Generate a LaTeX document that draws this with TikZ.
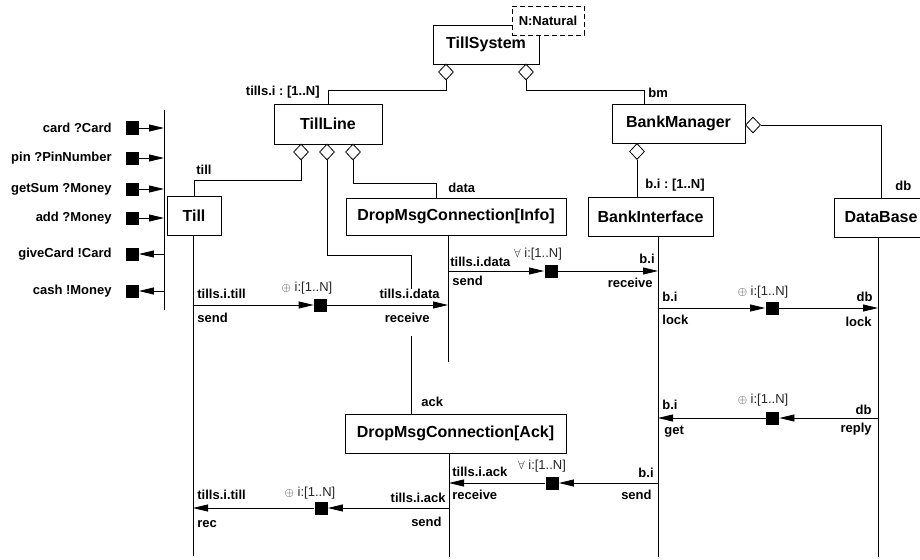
\documentclass[tikz,border=0pt]{standalone}
\usepackage{fontspec}
\setmainfont{Liberation Sans}
\frenchspacing
\usetikzlibrary{shapes.geometric,arrows.meta}
\begin{document}
\begin{tikzpicture}[x=1pt,y=-1pt,line width=0.8pt,
  cls/.style={draw,fill=white,minimum height=39pt,inner sep=0pt,font=\fontsize{16}{19}\selectfont\bfseries},
  lbl/.style={inner sep=0pt,font=\fontsize{13}{15}\selectfont\bfseries},
  iter/.style={inner sep=0pt,text=black!85,font=\fontsize{13}{15}\selectfont},
  agg/.style={diamond,draw,fill=white,inner sep=0pt,minimum width=15pt,minimum height=16pt},
  port/.style={fill=black,inner sep=0pt,minimum size=13pt},
  msg/.style={-{Triangle[length=15pt,width=7pt]}}]
\useasboundingbox (0,0) rectangle (920,559);
\clip (0,0) rectangle (920,559);

\node (ts) at (486,44.5)[cls,minimum width=106pt]{TillSystem};
\node (nat) at (548,20.5)[draw,fill=white,dash pattern=on 5pt off 3pt,minimum width=72pt,minimum height=29pt,inner sep=0pt,font=\fontsize{13}{15}\selectfont\bfseries]{N:Natural};
\node (tline) at (328,124)[cls,minimum width=108pt,minimum height=40pt]{TillLine};
\node (till) at (194,215.5)[cls,minimum width=54pt]{Till};
\node (info) at (456,216.5)[cls,minimum width=220pt,minimum height=37pt]{DropMsgConnection[Info]};
\node (bm) at (678.5,123.5)[cls,minimum width=133pt]{BankManager};
\node (bi) at (650.5,217)[cls,minimum width=125pt]{BankInterface};
\node (db) at (881,217.5)[cls,minimum width=94pt]{DataBase};
\node (ack) at (455.5,433.5)[cls,minimum width=221pt]{DropMsgConnection[Ack]};

\node (tsa) at (446,72)[agg]{};
\node (tsb) at (526,72)[agg]{};
\node (tla) at (301,152)[agg]{};
\node (tlb) at (327,152)[agg]{};
\node (tlc) at (353,152)[agg]{};
\node (bma) at (637,151.5)[agg]{};
\node (bmb) at (753,125)[agg]{};

\draw (tsa.south) -- ++(0,10) -| (tline.north);
\draw (tsb.south) -- ++(0,10) -| ([xshift=-34pt]bm.north);
\draw (tla.south) -- ++(0,20) -| (till.north);
\coordinate (ackTop) at (411,289);
\coordinate (ackBot) at (411,336);
\draw (tlb.south) -- ++(0,95) -| (ackTop);
\draw (ackBot) -- (ackBot |- ack.north);
\draw (tlc.south) -- ++(0,23) -| ([xshift=-20pt]info.north);
\draw (bma.south) -- (bma.south |- bi.north);
\draw (bmb.east) -| (db.north);

\coordinate (lTill) at (193,235);
\coordinate (lInfo) at (448,235);
\coordinate (lAck) at (449,453);
\coordinate (lBI) at (658,237);
\coordinate (lDB) at (878,237);
\draw (lTill) -- ++(0,321);
\draw (lInfo) -- ++(0,127);
\draw (lAck) -- ++(0,104);
\draw (lBI) -- ++(0,320);
\draw (lDB) -- ++(0,320);

\coordinate (railTop) at (164,110);
\coordinate (railBot) at (164,310);
\draw (railTop) -- (railBot);
\foreach \y/\txt/\nm in {128/card ?Card/pc,158/pin ?PinNumber/pp,189/getSum ?Money/pg,218/add ?Money/pa}
{
   \node (\nm) at (132,\y)[port]{};
   \node (\nm t) at (112,\y)[lbl,anchor=east]{\txt};
   \draw[msg] (\nm) -- (\nm -| railTop);
}
\foreach \y/\txt/\nm in {254/giveCard !Card/pv,291/cash !Money/pm}
{
   \node (\nm) at (132,\y)[port]{};
   \node (\nm t) at (112,\y)[lbl,anchor=east]{\txt};
   \draw[msg] (\nm -| railTop) -- (\nm);
}

\node (m1) at (320.5,305)[port]{};
\node (m2) at (551,271)[port]{};
\node (m3) at (772,308)[port]{};
\node (m4) at (772.5,418)[port]{};
\node (m5) at (552,483)[port]{};
\node (m6) at (321,508)[port]{};
\draw[msg] (lTill |- m1) -- (m1);
\draw[msg] (m1) -- (lInfo |- m1);
\draw[msg] (lInfo |- m2) -- (m2);
\draw[msg] (m2) -- (lBI |- m2);
\draw[msg] (lBI |- m3) -- (m3);
\draw[msg] (m3) -- (lDB |- m3);
\draw[msg] (lDB |- m4) -- (m4);
\draw[msg] (m4) -- (lBI |- m4);
\draw[msg] (lBI |- m5) -- (m5);
\draw[msg] (m5) -- (lAck |- m5);
\draw[msg] (lAck |- m6) -- (m6);
\draw[msg] (m6) -- (lTill |- m6);

\foreach \x/\y/\txt [count=\i] in {196/170/till,448/188/data,648/93/bm,645/185/b.i : [1..N],895/186/db,421/402/ack,
   197/294/tills.i.till,197/317.5/send,450/262/tills.i.data,452/281/send,662/297/b.i,662/319.5/lock,
   662/404.5/b.i,664/432/get,452/471.5/tills.i.ack,452/495/receive,197/495/tills.i.till,197/524/rec}
{
   \node (w\i) at (\x,\y)[lbl,anchor=west]{\txt};
}
\foreach \x/\y/\txt [count=\i] in {320/92/tills.i : [1..N],440/294/tills.i.data,430/318/receive,655/259/b.i,653/283/receive,
   873/297/db,872/322/lock,872/410/db,872/429/reply,654/473/b.i,652/494.5/send,446/498/tills.i.ack,442/522/send}
{
   \node (e\i) at (\x,\y)[lbl,anchor=east]{\txt};
}
\foreach \x/\y/\sym [count=\i] in {307/288/\oplus,538/254/\forall,763/292/\oplus,763/400/\oplus,542/466/\forall,310/493/\oplus}
{
   \node (q\i) at (\x,\y)[iter]{$\sym$ i:[1..N]};
}
\end{tikzpicture}
\end{document}
